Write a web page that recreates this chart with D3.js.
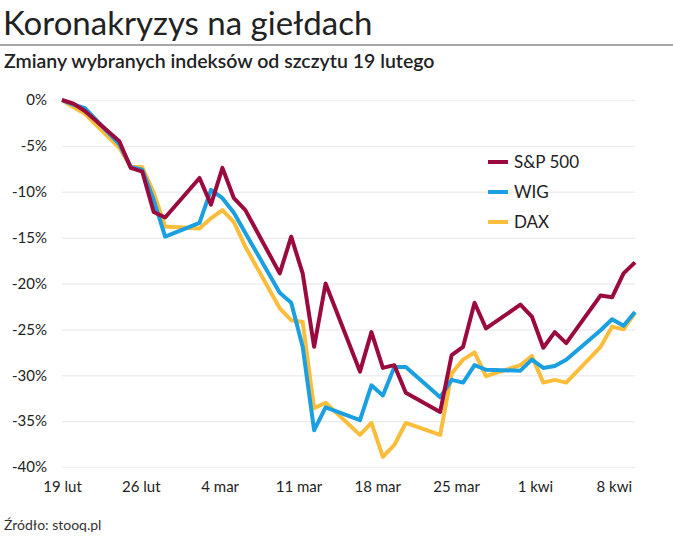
<!DOCTYPE html>
<html><head><meta charset="utf-8">
<script src="https://cdn.jsdelivr.net/npm/d3@7"></script>
<style>
body{margin:0;background:#fff;font-family:Lato,"Open Sans",sans-serif;}
</style></head><body>
<svg id="chart" width="673" height="540"></svg>
<script>
// trading days counted from 19 lut (day 0)
const days = [0,1,2,5,6,7,8,9,12,13,14,15,16,19,20,21,22,23,26,27,28,29,30,33,34,35,36,37,40,41,42,43,44,47,48,49,50];
const sp500 = [0,-0.4,-1.2,-4.5,-7.4,-7.8,-12.2,-12.8,-8.5,-11.4,-7.4,-10.7,-12,-18.9,-14.9,-18.9,-26.9,-20,-29.6,-25.3,-29.2,-28.9,-31.9,-34,-27.8,-26.9,-22.1,-24.9,-22.3,-23.6,-27,-25.3,-26.5,-21.3,-21.5,-18.9,-17.7];
const wig = [0,-0.5,-0.9,-4.8,-7.3,-7.6,-10.9,-14.9,-13.4,-9.8,-10.7,-12.3,-14.5,-21,-22.1,-26.9,-36,-33.5,-34.9,-31.1,-32.2,-29.1,-29.1,-32.4,-30.5,-30.8,-28.9,-29.4,-29.5,-28.3,-29.2,-29,-28.3,-25.1,-23.9,-24.6,-23.1];
const dax = [0,-0.8,-1.5,-5.2,-7.3,-7.3,-10.1,-13.8,-14,-12.9,-12,-13.3,-16,-22.7,-24,-24.2,-33.6,-33,-36.5,-35.2,-38.9,-37.6,-35.2,-36.5,-29.8,-28.3,-27.5,-30.1,-28.9,-27.9,-30.8,-30.5,-30.8,-26.9,-24.7,-25,-23.2];
const tickDays = [0,7,14,21,28,35,42,49];
const tickLabels = ["19 lut","26 lut","4 mar","11 mar","18 mar","25 mar","1 kwi","8 kwi"];
const yTicks = [0,-5,-10,-15,-20,-25,-30,-35,-40];
const seriesNames = ["S&P 500","WIG","DAX"];
const colors = ["#9b0a3f","#1aa0e0","#fbbd3a"];

const svg = d3.select("#chart");
const x = d3.scaleLinear().domain([0,50]).range([62,635]);
const y = d3.scaleLinear().domain([0,-40]).range([100,467]);

svg.append("text").attr("x",3).attr("y",35).attr("font-size",33).attr("fill","#222").text("Koronakryzys na giełdach");
svg.append("line").attr("x1",0).attr("x2",673).attr("y1",45).attr("y2",45).attr("stroke","#888").attr("stroke-width",1.5);
svg.append("text").attr("x",4).attr("y",68).attr("font-size",19.5).attr("font-weight",600).attr("fill","#222").text("Zmiany wybranych indeksów od szczytu 19 lutego");

// grid + y labels
const yAxis = svg.append("g").attr("transform","translate(62,0)")
  .call(d3.axisLeft(y).tickValues(yTicks).tickSize(-573).tickFormat(d => d + "%"));
yAxis.select(".domain").remove();
yAxis.selectAll(".tick line").attr("stroke","#eeeeee").attr("stroke-width",1.5);
yAxis.selectAll(".tick text").attr("x",-15).attr("font-size",15).attr("fill","#222").attr("font-family","Lato,sans-serif");

// x labels
const xAxis = svg.append("g").attr("transform","translate(0,467)")
  .call(d3.axisBottom(x).tickValues(tickDays).tickSize(0).tickFormat((d,i) => tickLabels[i]));
xAxis.select(".domain").remove();
xAxis.selectAll(".tick text").attr("dy",22).attr("dx",(d,i) => -i*1.4).attr("font-size",15).attr("fill","#222").attr("font-family","Lato,sans-serif");

const line = d3.line().x((d,i) => x(days[i])).y(d => y(d));
[dax, wig, sp500].forEach((s, k) => {
  svg.append("path").datum(s).attr("d", line).attr("fill","none")
    .attr("stroke", colors[2-k]).attr("stroke-width",4).attr("stroke-linejoin","round");
});

// legend
const lg = svg.append("g");
seriesNames.forEach((n,i) => {
  lg.append("line").attr("x1",488).attr("x2",508).attr("y1",162+i*30).attr("y2",162+i*30)
    .attr("stroke",colors[i]).attr("stroke-width",4);
  lg.append("text").attr("x",514).attr("y",168+i*30).attr("font-size",17).attr("fill","#222").text(n);
});

svg.append("text").attr("x",4).attr("y",530).attr("font-size",14).attr("fill","#333").text("Źródło: stooq.pl");
</script></body></html>
